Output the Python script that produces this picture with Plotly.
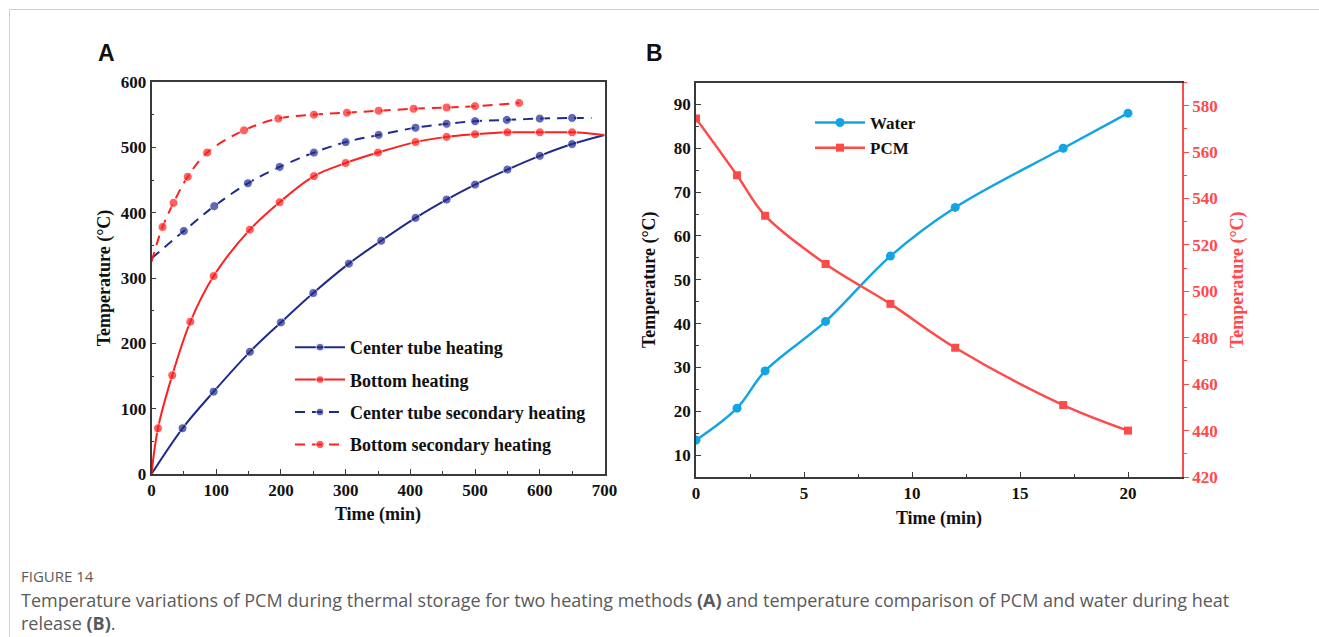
import plotly.graph_objects as go

W, H = 1319, 637

# ---------------- Panel A data ----------------
a_center_x = [0, 48, 96, 152, 200, 250, 305, 355, 408, 456, 500, 550, 600, 650, 700]
a_center_y = [0, 70, 126, 187, 232, 277, 322, 357, 392, 420, 443, 466, 487, 505, 519]

a_bottom_x = [0, 10, 32, 60, 96, 152, 198, 251, 300, 350, 408, 456, 500, 550, 600, 650, 700]
a_bottom_y = [0, 70, 151, 233, 303, 374, 416, 456, 476, 492, 508, 516, 520, 523, 523, 523, 519]

a_center2_x = [0, 50, 97, 149, 198, 251, 300, 351, 408, 456, 500, 549, 600, 650, 680]
a_center2_y = [330, 372, 410, 445, 470, 492, 508, 519, 530, 536, 540, 542, 544, 545, 545]

a_bottom2_x = [0, 17, 34, 56, 86, 143, 196, 251, 302, 351, 405, 456, 500, 568]
a_bottom2_y = [325, 378, 415, 455, 492, 526, 544, 550, 553, 556, 559, 561, 563, 568]

a_names = ["Center tube heating", "Bottom heating",
           "Center tube secondary heating", "Bottom secondary heating"]

# ---------------- Panel B data ----------------
b_time = [0, 1.9, 3.2, 6, 9, 12, 17, 20]
b_water = [13.4, 20.7, 29.2, 40.5, 55.4, 66.5, 80, 88]
b_pcm = [574.5, 550, 532.6, 511.8, 494.6, 475.7, 451, 440]

BLUE = "#1f2a8f"
RED = "#ff1f1f"
WATER = "#12a5e6"
PCM = "#ff4a4a"
SERIF = "Liberation Serif"

def sizes(n, first=True, last=True, s=9):
    out = [s] * n
    if not first:
        out[0] = 0
    if not last:
        out[-1] = 0
    return out

fig = go.Figure()

specs = [
    (a_center_x, a_center_y, BLUE, "solid", False, False),
    (a_bottom_x, a_bottom_y, RED, "solid", False, False),
    (a_center2_x, a_center2_y, BLUE, "10px,7px", False, False),
    (a_bottom2_x, a_bottom2_y, RED, "10px,7px", False, True),
]
for i, (xs, ys, col, dash, f, l) in enumerate(specs):
    fig.add_trace(go.Scatter(
        x=xs, y=ys, name=a_names[i], mode="lines+markers",
        line=dict(color=col, width=2, dash=dash, shape="spline"),
        marker=dict(color=col, size=sizes(len(xs), f, l), symbol="circle"),
        xaxis="x", yaxis="y", legend="legend", legendgroup=f"g{i}",
    ))

fig.add_trace(go.Scatter(
    x=b_time, y=b_water, name="Water", mode="lines+markers",
    line=dict(color=WATER, width=2.5, shape="spline"),
    marker=dict(color=WATER, size=9, symbol="circle"),
    xaxis="x2", yaxis="y2", legend="legend2",
))
fig.add_trace(go.Scatter(
    x=b_time, y=b_pcm, name="PCM", mode="lines+markers",
    line=dict(color=PCM, width=2.5, shape="spline"),
    marker=dict(color=PCM, size=8, symbol="square"),
    xaxis="x2", yaxis="y3", legend="legend2",
))

tickf = dict(family=SERIF, size=17, color="#111", weight="bold")
titlef = dict(family=SERIF, size=18, color="#111", weight="bold")
LINEC = "#3a3a3a"

def ax(**kw):
    base = dict(showgrid=False, zeroline=False, showline=True, linecolor=LINEC,
                linewidth=1.5, ticks="inside", ticklen=5, tickcolor=LINEC,
                tickwidth=1.2, tickfont=tickf)
    base.update(kw)
    return base

fig.update_layout(
    width=W, height=H,
    margin=dict(l=0, r=0, t=0, b=0, autoexpand=False),
    paper_bgcolor="white", plot_bgcolor="white",
    showlegend=True,
    xaxis=ax(domain=[151.5 / W, 604.5 / W], range=[0, 700], dtick=100, tick0=0,
             mirror=True, anchor="y",
             minor=dict(ticks="inside", dtick=50, ticklen=3, tickcolor=LINEC),
             title=dict(text="Time (min)", font=titlef, standoff=8)),
    yaxis=ax(domain=[1 - 474 / H, 1 - 82 / H], range=[0, 600], dtick=100, tick0=0,
             mirror=True, anchor="x",
             minor=dict(ticks="inside", dtick=50, ticklen=3, tickcolor=LINEC),
             title=dict(text="Temperature (°C)", font=titlef, standoff=6)),
    xaxis2=ax(domain=[696 / W, 1182 / W], range=[0, 22.5], dtick=5, tick0=0,
              mirror=True, anchor="y2",
              minor=dict(ticks="inside", dtick=2.5, ticklen=3, tickcolor=LINEC),
              title=dict(text="Time (min)", font=titlef, standoff=9)),
    yaxis2=ax(domain=[1 - 477 / H, 1 - 82.5 / H], range=[5, 95], dtick=10, tick0=0,
              anchor="x2",
              minor=dict(ticks="inside", dtick=5, ticklen=3, tickcolor=LINEC),
              title=dict(text="Temperature (°C)", font=titlef, standoff=14)),
    yaxis3=dict(overlaying="y2", side="right", anchor="x2", range=[420, 590],
                dtick=20, tick0=0, showgrid=False, zeroline=False, showline=True,
                linecolor=PCM, linewidth=1.5, ticks="outside", ticklen=5,
                tickcolor=PCM, tickwidth=1.2,
                tickfont=dict(family=SERIF, size=17, color=PCM, weight="bold"),
                minor=dict(ticks="outside", dtick=10, ticklen=3, tickcolor=PCM),
                title=dict(text="Temperature (°C)",
                           font=dict(family=SERIF, size=18, color=PCM, weight="bold"),
                           standoff=14)),
    legend=dict(x=290 / W, y=1 - 329 / H, xanchor="left", yanchor="top",
                bgcolor="rgba(0,0,0,0)", traceorder="grouped", tracegroupgap=6,
                itemwidth=50,
                font=dict(family=SERIF, size=18, color="#111", weight="bold")),
    legend2=dict(x=810 / W, y=1 - 105 / H, xanchor="left", yanchor="top",
                 bgcolor="rgba(0,0,0,0)", itemwidth=50,
                 font=dict(family=SERIF, size=17, color="#111", weight="bold")),
)

annots = [
    dict(text="A", x=106, y=53, font=dict(family="Liberation Sans", size=23, color="#111", weight="bold")),
    dict(text="B", x=654, y=53, font=dict(family="Liberation Sans", size=23, color="#111", weight="bold")),
]
for a in annots:
    fig.add_annotation(text=a["text"], x=a["x"] / W, y=1 - a["y"] / H, xref="paper", yref="paper",
                       showarrow=False, xanchor="center", yanchor="middle", font=a["font"])

cap_font = dict(family="Open Sans", size=18, color="#5a5a5a")
fig.add_annotation(text="FIGURE 14", x=19 / W, y=1 - 576 / H, xref="paper", yref="paper",
                   showarrow=False, xanchor="left", yanchor="middle",
                   font=dict(family="Open Sans", size=15, color="#5a5a5a"))
fig.add_annotation(text="Temperature variations of PCM during thermal storage for two heating methods <b>(A)</b> and temperature comparison of PCM and water during heat<br>release <b>(B)</b>.",
                   x=19 / W, y=0, xref="paper", yref="paper", align="left",
                   showarrow=False, xanchor="left", yanchor="bottom", font=cap_font)

# card border (top and left)
fig.add_shape(type="line", xref="paper", yref="paper", x0=9.5 / W, x1=1, y0=1 - 9.5 / H, y1=1 - 9.5 / H,
              line=dict(color="#cfcfcf", width=1))
fig.add_shape(type="line", xref="paper", yref="paper", x0=9.5 / W, x1=9.5 / W, y0=0, y1=1 - 9.5 / H,
              line=dict(color="#cfcfcf", width=1))

fig.write_html("out.html",
               post_script="document.body.style.margin='0';document.body.style.overflow='hidden';")
